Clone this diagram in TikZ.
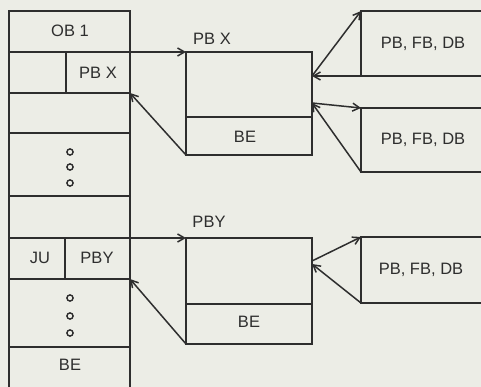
\documentclass[tikz,border=0pt]{standalone}
\usepackage{fontspec}
\setmainfont{Liberation Sans}
\usetikzlibrary{arrows.meta}
\definecolor{paper}{HTML}{ECEDE6}
\definecolor{ink}{HTML}{2E2E2E}
\tikzset{
  cell/.style={draw=ink, line width=1.6pt, rectangle, inner sep=0pt, outer sep=0pt, anchor=north west},
  lbl/.style={text=ink, inner sep=0pt, font=\fontsize{16.5}{18}\selectfont},
  conn/.style={draw=ink, line width=1.5pt, -{Straight Barb[length=7pt,width=8pt,line width=1.5pt]}},
  ring/.style={draw=ink, line width=1.4pt}
}
\begin{document}
\begin{tikzpicture}[x=1pt,y=-1pt]
\clip (0,0) rectangle (481,387);
\fill[paper] (0,0) rectangle (481,387);
% left column
\node[cell, minimum width=121pt, minimum height=41pt] (ob1) at (9,11) {};
\node[lbl] at (70,31) {OB 1};
\node[cell, minimum width=57pt, minimum height=41pt] (pbxl) at (9,52) {};
\node[cell, minimum width=64pt, minimum height=41pt] (pbxr) at (66,52) {};
\node[lbl] at (98,73) {PB X};
\node[cell, minimum width=121pt, minimum height=40pt] (r3) at (9,93) {};
\node[cell, minimum width=121pt, minimum height=63pt] (dots1) at (9,133) {};
\node[cell, minimum width=121pt, minimum height=42pt] (r5) at (9,196) {};
\node[cell, minimum width=56pt, minimum height=41pt] (ju) at (9,238) {};
\node[lbl] at (40,258) {JU};
\node[cell, minimum width=65pt, minimum height=41pt] (pby) at (65,238) {};
\node[lbl] at (97,258) {PBY};
\node[cell, minimum width=121pt, minimum height=68pt] (dots2) at (9,279) {};
\node[cell, minimum width=121pt, minimum height=60pt] (be) at (9,347) {};
\node[lbl] at (70,365) {BE};
\foreach \yy in {152,167,183,298,316,333} \draw[ring] (70,\yy) circle (3.1);
% middle boxes
\node[cell, minimum width=126pt, minimum height=65pt] (pbxtop) at (186,52) {};
\node[cell, minimum width=126pt, minimum height=38pt] (pbxbot) at (186,117) {};
\node[lbl] at (245,137) {BE};
\node[lbl] at (212,39) {PB X};
\node[cell, minimum width=126pt, minimum height=66pt] (pbytop) at (186,238) {};
\node[cell, minimum width=126pt, minimum height=40pt] (pbybot) at (186,304) {};
\node[lbl] at (249,322) {BE};
\node[lbl] at (209,222) {PBY};
% right boxes
\node[cell, minimum width=124pt, minimum height=65pt] (rb1) at (361,11) {};
\node[lbl] at (423,44) {PB, FB, DB};
\node[cell, minimum width=124pt, minimum height=64pt] (rb2) at (361,108) {};
\node[lbl] at (423,140) {PB, FB, DB};
\node[cell, minimum width=124pt, minimum height=66pt] (rb3) at (361,237) {};
\node[lbl] at (421,270) {PB, FB, DB};
% free ends on box edges
\coordinate (p1) at (312,76);
\coordinate (p2) at (312,103);
\coordinate (p3) at (312,261);
\coordinate (p4) at (312,264);
% connectors
\draw[conn] (ob1.south east) -- (pbxtop.north west);
\draw[conn] (pbxbot.south west) -- (pbxr.south east);
\draw[conn] (r5.south east) -- (pbytop.north west);
\draw[conn] (pbybot.south west) -- (pby.south east);
\draw[conn] (rb1.south west) -- (p1);
\draw[conn] (p1) -- (rb1.north west);
\draw[conn] (p2) -- (rb2.north west);
\draw[conn] (rb2.south west) -- (p2);
\draw[conn] (p3) -- (rb3.north west);
\draw[conn] (rb3.south west) -- (p4);
\end{tikzpicture}
\end{document}
